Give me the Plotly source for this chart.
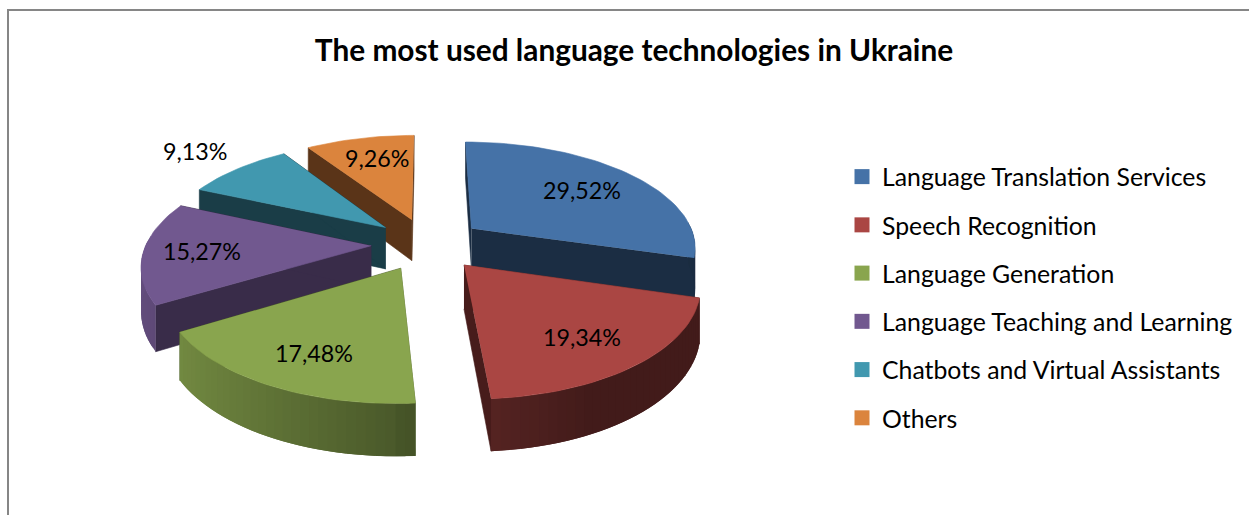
import math
import plotly.graph_objects as go

# Survey shares, percent
categories = ["Language Translation Services", "Speech Recognition", "Language Generation",
              "Language Teaching and Learning", "Chatbots and Virtual Assistants", "Others"]
shares = [29.52, 19.34, 17.48, 15.27, 9.13, 9.26]
top_colors = ["#4572a7", "#aa4643", "#89a54e", "#71588f", "#4198af", "#db843d"]
radial_colors = ["#1b2d43", "#471c1b", "#4a5a2a", "#392c49", "#1a3d47", "#5a3418"]
title_text = "The most used language technologies in Ukraine"

# Projection of the tilted pie onto the canvas
CX, CY = 427.5, 244
RX, RY = 225, 105
PERSPECTIVE = 0.16
DEPTH = 42.5
EXPLODE = 0.25

# Centre of each percentage label on the canvas
label_centres = [(582, 190), (582, 337), (314, 353), (202, 251), (195, 151), (377, 158)]
# Paint order, rear slices first
paint_order = [0, 5, 4, 3, 2, 1]


def project(u, v, z=0.0):
    s = 1 / (1 - PERSPECTIVE * v)
    return CX + RX * u * s, CY + RY * v * s + z * DEPTH * s


def rgb(hex_colour, factor):
    r, g, b = (int(hex_colour[i:i + 2], 16) for i in (1, 3, 5))
    return f"rgb({r * factor:.0f},{g * factor:.0f},{b * factor:.0f})"


def wall_shade(angle):
    # Darkens from the left side of the pie towards the right
    h = math.sin(angle)
    if h < 0:
        return 0.54 + (-h) * 0.34
    return max(0.39, 0.52 - h * 0.3)


def polygon(fig, pts, colour, name=None, edge=0.6):
    fig.add_trace(go.Scatter(
        x=[p[0] for p in pts], y=[p[1] for p in pts], mode="lines", fill="toself",
        fillcolor=colour, line=dict(color=colour, width=edge), showlegend=False,
        hoverinfo="text" if name else "skip", text=name, hoveron="fills", name=name or "",
    ))


fig = go.Figure()

# Slice spans, clockwise from twelve o'clock
total = sum(shares)
spans = []
start = 0.0
for value in shares:
    end = start + value / total * 2 * math.pi
    spans.append((start, end))
    start = end

for i in paint_order:
    a0, a1 = spans[i]
    mid = (a0 + a1) / 2
    ox, oy = EXPLODE * math.sin(mid), -EXPLODE * math.cos(mid)
    steps = max(2, int((a1 - a0) / math.radians(2)))
    angles = [a0 + (a1 - a0) * k / steps for k in range(steps + 1)]
    rim = [(ox + math.sin(a), oy - math.cos(a)) for a in angles]

    for side in (rim[0], rim[-1]):
        polygon(fig, [project(ox, oy), project(*side), project(*side, 1), project(ox, oy, 1)],
                radial_colors[i])
    # Rim wall: only the part facing the viewer, each strip overlapping the next to avoid seams
    for k in range(steps):
        if -math.cos(angles[k]) < -0.05 and -math.cos(angles[k + 1]) < -0.05:
            continue
        shade = wall_shade((angles[k] + angles[k + 1]) / 2)
        far = rim[min(k + 2, steps)]
        polygon(fig, [project(*rim[k]), project(*rim[k + 1]), project(*far),
                      project(*far, 1), project(*rim[k + 1], 1), project(*rim[k], 1)],
                rgb(top_colors[i], shade), edge=0)
    polygon(fig, [project(ox, oy)] + [project(*p) for p in rim], top_colors[i],
            f"{categories[i]}: {shares[i]:.2f}%")

# Legend keys
for name, colour in zip(categories, top_colors):
    fig.add_trace(go.Scatter(
        x=[None], y=[None], mode="markers", name=name, legendgroup=name,
        marker=dict(symbol="square", size=15, color=colour),
    ))

labels = [dict(x=x, y=y, xref="x", yref="y", text=f"{v:.2f}".replace(".", ",") + "%",
               showarrow=False, font=dict(family="Lato", size=23.3, color="#000000"))
          for v, (x, y) in zip(shares, label_centres)]

frame = dict(color="#868686", width=2)
fig.update_layout(
    width=1249, height=515, margin=dict(l=0, r=0, t=0, b=0),
    paper_bgcolor="#ffffff", plot_bgcolor="#ffffff",
    title=dict(text=f"<b>{title_text}</b>", x=634 / 1249, xanchor="center",
               y=1 - 51 / 515, yanchor="middle",
               font=dict(family="Lato", size=29.8, color="#000000")),
    xaxis=dict(range=[0, 1249], visible=False, fixedrange=True),
    yaxis=dict(range=[515, 0], visible=False, fixedrange=True),
    legend=dict(x=842 / 1249, y=1 - 154 / 515, xanchor="left", yanchor="top",
                font=dict(family="Lato", size=24.8, color="#000000"),
                tracegroupgap=13, itemclick=False, itemdoubleclick=False,
                bgcolor="rgba(0,0,0,0)"),
    annotations=labels,
    shapes=[dict(type="line", xref="x", yref="y", x0=9, x1=1249, y0=10, y1=10, line=frame),
            dict(type="line", xref="x", yref="y", x0=8, x1=8, y0=9, y1=515, line=frame)],
    showlegend=True,
)

fig.write_html("out.html", config=dict(displayModeBar=False))
